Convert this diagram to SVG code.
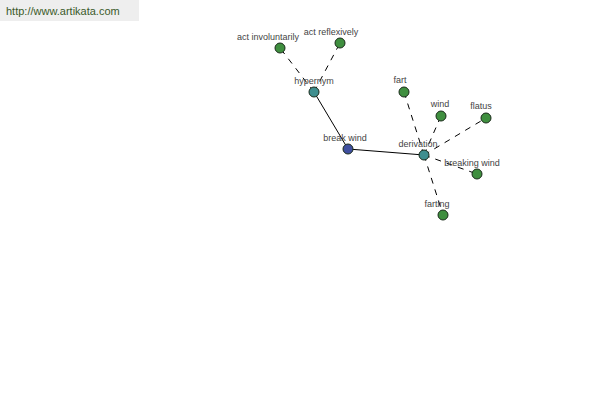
<svg xmlns="http://www.w3.org/2000/svg" width="600" height="400" viewBox="0 0 600 400">
<style>
text{font-family:"Liberation Sans",Arial,sans-serif;font-size:9px;fill:#444;text-anchor:middle}
.n{stroke:#1a2a1a;stroke-width:1}
.g{fill:#3f8f3f}
.t{fill:#3f8f8f}
.b{fill:#3f4f9f}
.s{stroke:#000;stroke-width:1;fill:none}
.d{stroke:#000;stroke-width:1;fill:none;stroke-dasharray:6,6}
</style>
<rect x="0" y="0" width="139" height="21" fill="#eeeeee"/>
<text x="6" y="15" style="text-anchor:start;font-size:11px;fill:#3a5a2a">http://www.artikata.com</text>
<g id="connectors">
<line class="s" x1="348" y1="149" x2="314" y2="92"/>
<line class="s" x1="348" y1="149" x2="424" y2="155"/>
<line class="d" x1="314" y1="92" x2="280" y2="48"/>
<line class="d" x1="314" y1="92" x2="340" y2="43"/>
<line class="d" x1="424" y1="155" x2="404" y2="92"/>
<line class="d" x1="424" y1="155" x2="441" y2="116"/>
<line class="d" x1="424" y1="155" x2="486" y2="118"/>
<line class="d" x1="424" y1="155" x2="477" y2="174"/>
<line class="d" x1="424" y1="155" x2="443" y2="215"/>
</g>
<g id="break-wind"><circle class="n b" cx="348" cy="149" r="5"/><text x="345" y="141">break wind</text></g>
<g id="hypernym"><circle class="n t" cx="314" cy="92" r="5"/><text x="314" y="84">hypernym</text></g>
<g id="derivation"><circle class="n t" cx="424" cy="155" r="5"/><text x="418" y="147">derivation</text></g>
<g id="act-involuntarily"><circle class="n g" cx="280" cy="48" r="5"/><text x="268" y="40">act involuntarily</text></g>
<g id="act-reflexively"><circle class="n g" cx="340" cy="43" r="5"/><text x="331" y="35">act reflexively</text></g>
<g id="fart"><circle class="n g" cx="404" cy="92" r="5"/><text x="400" y="83">fart</text></g>
<g id="wind"><circle class="n g" cx="441" cy="116" r="5"/><text x="440" y="107">wind</text></g>
<g id="flatus"><circle class="n g" cx="486" cy="118" r="5"/><text x="481" y="109">flatus</text></g>
<g id="breaking-wind"><circle class="n g" cx="477" cy="174" r="5"/><text x="472" y="166">breaking wind</text></g>
<g id="farting"><circle class="n g" cx="443" cy="215" r="5"/><text x="437" y="207">farting</text></g>
</svg>
